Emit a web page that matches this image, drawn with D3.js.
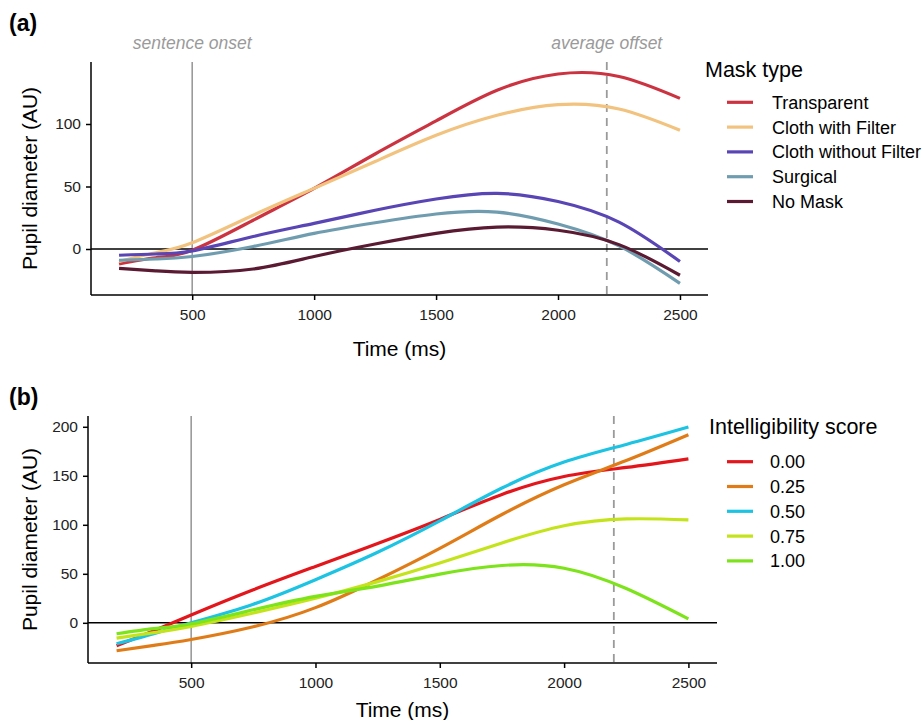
<!DOCTYPE html>
<html>
<head>
<meta charset="utf-8">
<script src="https://cdn.jsdelivr.net/npm/d3@7"></script>
<style>
  body { margin: 0; background: #fff; }
  svg { font-family: "Liberation Sans", Arial, sans-serif; }
  .axis path, .axis line { stroke: #000; stroke-width: 1.5; }
  .axis text { fill: #222; font-size: 15.5px; }
  .curve { fill: none; stroke-width: 3.2; stroke-linecap: butt; }
</style>
</head>
<body>
<div id="chart"></div>
<script>
// sample times (ms) the curves were read at
const times = [200, 350, 500, 750, 1000, 1250, 1500, 1750, 2000, 2250, 2500];
const xTicks = [500, 1000, 1500, 2000, 2500];
const onsetTime = 500;
const offsetTime = 2200;

// panel (a): mask type
const maskTypes = ['Transparent', 'Cloth with Filter', 'Cloth without Filter', 'Surgical', 'No Mask'];
const transparent   = [-12, -7, -1, 23, 48.5, 76, 102.5, 127, 140, 138, 120.5];
const clothFilter   = [-10, -3, 5, 27, 48.5, 70, 91, 107, 115.5, 112, 95];
const clothNoFilter = [-5, -4, -1.5, 10, 20.5, 31, 40, 44.5, 38, 21.5, -10];
const surgical      = [-9, -8, -6, 2, 12.5, 21, 28, 29.5, 20, 2.5, -27.5];
const noMask        = [-15.5, -17.5, -18.7, -16, -6, 4, 12.5, 17.5, 15, 3.5, -21];
const yTicksA = [0, 50, 100];

// panel (b): intelligibility score
const scores = ['0.00', '0.25', '0.50', '0.75', '1.00'];
const score000 = [-23.5, -8, 8, 33.7, 57.5, 81, 105.5, 131, 149.3, 158.5, 167.3];
const score025 = [-28.5, -23, -17, -4, 15.5, 44, 76, 110.5, 140.8, 165.5, 191.8];
const score050 = [-21.4, -11, 0, 19, 44, 72, 104, 137.5, 164, 182, 199.7];
const score075 = [-15.6, -10, -3.7, 10, 25, 42, 61, 81.5, 99, 106, 105];
const score100 = [-11.2, -6, -1, 13.3, 27, 37.5, 49.7, 58.5, 55.7, 35, 4];
const yTicksB = [0, 50, 100, 150, 200];

const maskColors = ['#cc3340', '#f2c27f', '#5a45b5', '#6f9daf', '#5a1a32'];
const scoreColors = ['#e3161c', '#e07c17', '#1cc3e2', '#c5e31a', '#7de31a'];

const svg = d3.select('#chart').append('svg')
    .attr('width', 924)
    .attr('height', 720);

class Panel {

    constructor(opts) {
        this.names = opts.names;
        this.series = opts.series;
        this.colors = opts.colors;
        this.box = opts.box;          // left, right, top, bottom in px
        this.yDomain = opts.yDomain;
        this.yTicks = opts.yTicks;
        this.tag = opts.tag;
        this.legendTitle = opts.legendTitle;
        this.legend = opts.legend;
        this.showNotes = opts.showNotes ? opts.showNotes : false;
        this.xTitleY = opts.xTitleY;

        this.g = svg.append('g');
        this.draw();
    }

    draw() {
        const b = this.box;
        this.x = d3.scaleLinear().domain([85, 2615]).range([b.left, b.right]);
        this.y = d3.scaleLinear().domain(this.yDomain).range([b.bottom, b.top]);

        this.addGuides();
        this.addAxes();
        this.addLines();
        this.addLegend();
    }

    addGuides() {
        const b = this.box;
        // sentence onset, solid grey
        this.g.append('line')
            .attr('x1', this.x(onsetTime)).attr('x2', this.x(onsetTime))
            .attr('y1', b.top).attr('y2', b.bottom)
            .attr('stroke', '#9a9a9a').attr('stroke-width', 1.6);
        // average offset, dashed
        this.g.append('line')
            .attr('x1', this.x(offsetTime)).attr('x2', this.x(offsetTime))
            .attr('y1', b.top).attr('y2', b.bottom)
            .attr('stroke', '#9a9a9a').attr('stroke-width', 1.8)
            .attr('stroke-dasharray', '8,6');
        // zero line
        this.g.append('line')
            .attr('x1', b.left).attr('x2', b.right)
            .attr('y1', this.y(0)).attr('y2', this.y(0))
            .attr('stroke', '#000').attr('stroke-width', 1.6);

        if (this.showNotes) {
            const notes = [[onsetTime, 'sentence onset'], [offsetTime, 'average offset']];
            this.g.selectAll('.note')
                .data(notes)
              .enter().append('text')
                .attr('class', 'note')
                .attr('x', d => this.x(d[0]))
                .attr('y', 49)
                .attr('text-anchor', 'middle')
                .style('font-size', '17.5px')
                .style('font-style', 'italic')
                .style('fill', '#9a9a9a')
                .text(d => d[1]);
        }
    }

    addAxes() {
        const b = this.box;
        const xAxis = d3.axisBottom(this.x)
            .tickValues(xTicks)
            .tickSize(5)
            .tickPadding(9)
            .tickFormat(d3.format('d'));
        const yAxis = d3.axisLeft(this.y)
            .tickValues(this.yTicks)
            .tickSize(5)
            .tickPadding(5)
            .tickFormat(d3.format('d'));

        this.g.append('g')
            .attr('class', 'x axis')
            .attr('transform', `translate(0,${b.bottom})`)
            .call(xAxis)
            .call(a => a.select('.domain').attr('d', `M${b.left},0H${b.right}`));

        this.g.append('g')
            .attr('class', 'y axis')
            .attr('transform', `translate(${b.left},0)`)
            .call(yAxis)
            .call(a => a.select('.domain').attr('d', `M0,${b.top}V${b.bottom}`));

        // axis titles
        this.g.append('text')
            .attr('x', (b.left + b.right) / 2)
            .attr('y', this.xTitleY)
            .attr('text-anchor', 'middle')
            .style('font-size', '21px')
            .text('Time (ms)');

        this.g.append('text')
            .attr('transform', `translate(37,${(b.top + b.bottom) / 2}) rotate(-90)`)
            .attr('text-anchor', 'middle')
            .style('font-size', '21px')
            .text('Pupil diameter (AU)');

        // panel tag
        this.g.append('text')
            .attr('x', 9)
            .attr('y', this.tag.y)
            .style('font-size', '23px')
            .style('font-weight', 'bold')
            .text(this.tag.text);
    }

    addLines() {
        const line = d3.line()
            .x((d, i) => this.x(times[i]))
            .y(d => this.y(d))
            .curve(d3.curveNatural);

        this.g.selectAll('.curve')
            .data(this.series)
          .enter().append('path')
            .attr('class', 'curve')
            .attr('stroke', (d, i) => this.colors[i])
            .attr('d', line);
    }

    addLegend() {
        const L = this.legend;
        this.g.append('text')
            .attr('x', L.titleX)
            .attr('y', L.titleY)
            .style('font-size', '21.5px')
            .text(this.legendTitle);

        const rows = this.g.selectAll('.key')
            .data(this.names)
          .enter().append('g')
            .attr('class', 'key')
            .attr('transform', (d, i) => `translate(0,${L.firstY + i * 24.8})`);

        rows.append('line')
            .attr('x1', 727).attr('x2', 753)
            .attr('stroke', (d, i) => this.colors[i])
            .attr('stroke-width', 3.2);

        rows.append('text')
            .attr('x', L.labelX)
            .attr('y', 6.4)
            .style('font-size', '18px')
            .text(d => d);
    }
}

new Panel({
    names: maskTypes,
    series: [transparent, clothFilter, clothNoFilter, surgical, noMask],
    colors: maskColors,
    box: {left: 91, right: 708, top: 62, bottom: 295},
    yDomain: [-36.8, 149.6],
    yTicks: yTicksA,
    tag: {text: '(a)', y: 31},
    legendTitle: 'Mask type',
    legend: {titleX: 705, titleY: 77, firstY: 102.3, labelX: 772},
    showNotes: true,
    xTitleY: 356
});

new Panel({
    names: scores,
    series: [score000, score025, score050, score075, score100],
    colors: scoreColors,
    box: {left: 88, right: 717, top: 416, bottom: 663},
    yDomain: [-41, 211],
    yTicks: yTicksB,
    tag: {text: '(b)', y: 405},
    legendTitle: 'Intelligibility score',
    legend: {titleX: 709, titleY: 434, firstY: 461.7, labelX: 770},
    xTitleY: 717
});
</script>
</body>
</html>
